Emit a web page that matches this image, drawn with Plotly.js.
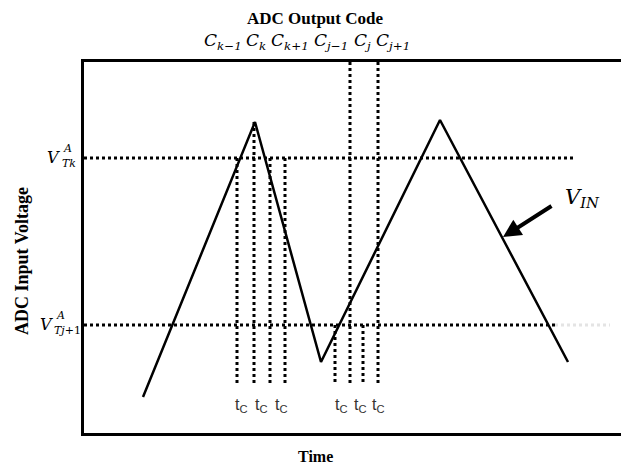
<!DOCTYPE html>
<html>
<head>
<meta charset="utf-8">
<script src="https://cdn.plot.ly/plotly-3.0.1.min.js"></script>
<style>html,body{margin:0;padding:0;background:#fff;}#chart{width:621px;height:465px;}</style>
</head>
<body>
<div id="chart"></div>
<script>
// ---- data (time / voltage in arbitrary units) ----
const waveTime = [59, 171, 237, 356, 484];
const waveVolt = [36, 311, 71, 313, 71];

const thresholdVolt = [275, 108];      // V_Tk^A , V_Tj+1^A
const thresholdEnd  = [491, 471];

const sampleTimes  = [153, 170, 186, 201, 251, 266, 279, 294];
const sampleTop    = [275, 311, 275, 275, 108, 371, 108, 371];
const sampleBottom = [48, 48, 48, 48, 48, 48, 48, 48];

const codeLabels = ['C<sub>k\u22121</sub>', 'C<sub>k</sub>', 'C<sub>k+1</sub>', 'C<sub>j\u22121</sub>', 'C<sub>j</sub>', 'C<sub>j+1</sub>'];
const codeTimes  = [139, 172, 206, 247, 278, 309];

const tcLabels = ['t<sub>C</sub>', 't<sub>C</sub>', 't<sub>C</sub>', 't<sub>C</sub>', 't<sub>C</sub>', 't<sub>C</sub>'];
const tcTimes  = [157, 177, 197, 257, 276, 294];

// ---- layout helpers (pixel -> paper fraction of the plot area) ----
const L = 84, T = 62, B = 433, W = 621, H = 465;
const PW = W - L, PH = B - T;
const fx = x => (x - L) / PW;
const fy = y => (B - y) / PH;

const traces = [];
traces.push({x: waveTime, y: waveVolt, mode: 'lines', line: {color: '#000', width: 2.5}, hoverinfo: 'skip'});
thresholdVolt.forEach((v, i) => {
  traces.push({x: [0, thresholdEnd[i]], y: [v, v], mode: 'lines',
    line: {color: '#000', width: 3, dash: 'dot'}, hoverinfo: 'skip'});
});
traces.push({x: [thresholdEnd[1], thresholdEnd[1] + 55], y: [thresholdVolt[1], thresholdVolt[1]], mode: 'lines',
  line: {color: '#e4e4e4', width: 3, dash: 'dot'}, hoverinfo: 'skip'});
const sx = [], sy = [];
sampleTimes.forEach((t, i) => { sx.push(t, t, null); sy.push(sampleTop[i], sampleBottom[i], null); });
traces.push({x: sx, y: sy, mode: 'lines', line: {color: '#000', width: 3, dash: 'dot'}, hoverinfo: 'skip'});

const P = {xref: 'paper', yref: 'paper', showarrow: false, xanchor: 'center', yanchor: 'middle'};
const mathFont = {family: 'DejaVu Serif', size: 17, color: '#000'};
const ann = [];
codeLabels.forEach((c, i) => ann.push(Object.assign({}, P, {x: codeTimes[i] / PW, y: fy(41), text: '<i>' + c + '</i>', font: mathFont})));
tcLabels.forEach((c, i) => ann.push(Object.assign({}, P, {x: tcTimes[i] / PW, y: fy(405), text: c,
  font: {family: 'Liberation Sans', size: 16, color: '#333'}})));

// threshold labels
ann.push(Object.assign({}, P, {x: fx(53), y: fy(157), text: '<i>V</i>', font: {family: 'DejaVu Serif', size: 16, color: '#000'}}));
ann.push(Object.assign({}, P, {x: fx(67), y: fy(148), text: '<i>A</i>', font: {family: 'DejaVu Serif', size: 11, color: '#000'}}));
ann.push(Object.assign({}, P, {x: fx(60), y: fy(163), xanchor: 'left', text: '<i>Tk</i>', font: {family: 'DejaVu Serif', size: 11, color: '#000'}}));
ann.push(Object.assign({}, P, {x: fx(46), y: fy(324), text: '<i>V</i>', font: {family: 'DejaVu Serif', size: 16, color: '#000'}}));
ann.push(Object.assign({}, P, {x: fx(60), y: fy(315), text: '<i>A</i>', font: {family: 'DejaVu Serif', size: 11, color: '#000'}}));
ann.push(Object.assign({}, P, {x: fx(52), y: fy(330), xanchor: 'left', text: '<i>Tj</i>+1', font: {family: 'DejaVu Serif', size: 11, color: '#000'}}));

// V_IN arrow + label
ann.push({xref: 'paper', yref: 'paper', x: fx(503), y: fy(237), ax: 50, ay: -32, text: '', showarrow: true,
  arrowhead: 2, arrowsize: 0.9, arrowwidth: 4, arrowcolor: '#000'});
ann.push(Object.assign({}, P, {x: fx(582), y: fy(198), text: '<i>V</i><sub><i>IN</i></sub>', font: {family: 'DejaVu Serif', size: 21, color: '#000'}}));

// axis titles
ann.push(Object.assign({}, P, {x: fx(315), y: fy(456), text: '<b>Time</b>', font: {family: 'Liberation Serif', size: 16, color: '#000'}}));
ann.push(Object.assign({}, P, {x: fx(22), y: fy(261), text: '<b>ADC Input Voltage</b>', textangle: -90, font: {family: 'Liberation Serif', size: 18, color: '#000'}}));

const layout = {
  width: W, height: H,
  margin: {l: L, r: 0, t: T, b: H - B, pad: 0},
  paper_bgcolor: '#fff', plot_bgcolor: '#fff',
  showlegend: false,
  title: {text: '<b>ADC Output Code</b>', x: 315 / W, xanchor: 'center', y: 1 - 18 / H, yanchor: 'middle',
    font: {family: 'Liberation Serif', size: 17, color: '#000'}},
  xaxis: {range: [0, PW], showgrid: false, zeroline: false, showticklabels: false, ticks: '',
    showline: true, mirror: true, linecolor: '#000', linewidth: 3, fixedrange: true},
  yaxis: {range: [0, PH], showgrid: false, zeroline: false, showticklabels: false, ticks: '',
    showline: true, linecolor: '#000', linewidth: 3, fixedrange: true},
  annotations: ann
};
Plotly.newPlot('chart', traces, layout, {staticPlot: true, displayModeBar: false});
</script>
</body>
</html>
